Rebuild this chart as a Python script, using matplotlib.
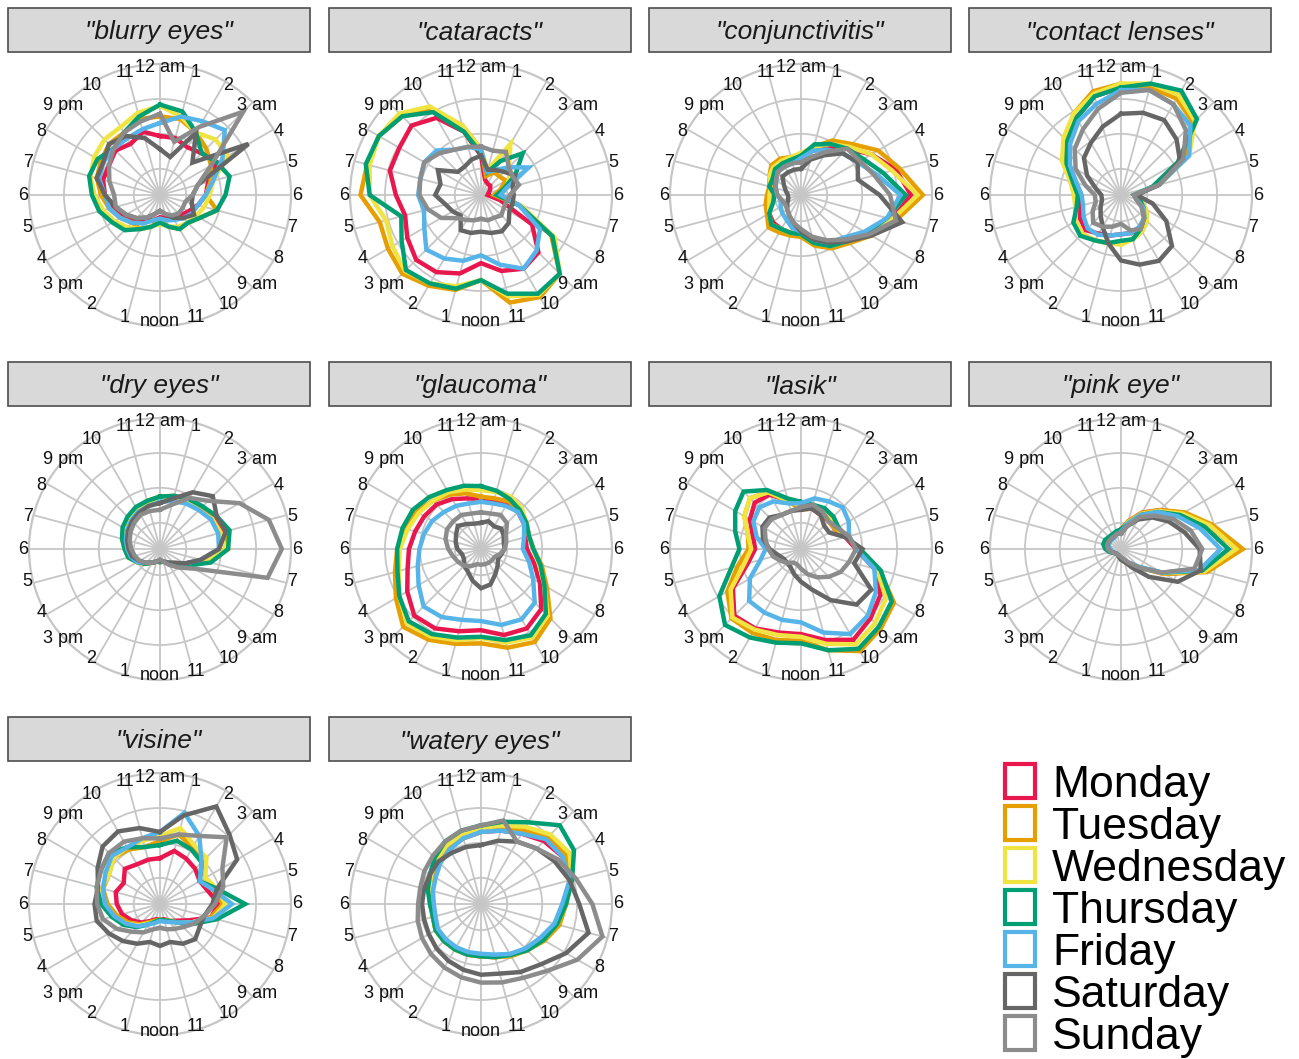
import matplotlib
matplotlib.use('Agg')
import matplotlib.pyplot as plt
from matplotlib.patches import Rectangle
import numpy as np

W, H = 1299, 1059

hour_labels = ["12 am", "1", "2", "3 am", "4", "5", "6", "7", "8", "9 am", "10", "11",
               "noon", "1", "2", "3 pm", "4", "5", "6", "7", "8", "9 pm", "10", "11"]
days = ["Monday", "Tuesday", "Wednesday", "Thursday", "Friday", "Saturday", "Sunday"]
day_colors = ["#E8174D", "#E69F00", "#F0E442", "#009E73", "#56B4E9", "#666666", "#8C8C8C"]
terms = ["blurry eyes", "cataracts", "conjunctivitis", "contact lenses", "dry eyes",
         "glaucoma", "lasik", "pink eye", "visine", "watery eyes"]

# relative search interest by hour (0 = 12 am ... 23 = 11 pm), one row per weekday Mon..Sun
blurry_eyes = [
    [0.45, 0.45, 0.42, 0.45, 0.50, 0.38, 0.35, 0.30, 0.25, 0.22, 0.20, 0.18, 0.17, 0.20, 0.22, 0.28, 0.33, 0.38, 0.42, 0.45, 0.45, 0.48, 0.45, 0.50],
    [0.60, 0.60, 0.55, 0.50, 0.45, 0.40, 0.35, 0.45, 0.35, 0.30, 0.30, 0.25, 0.20, 0.25, 0.30, 0.30, 0.35, 0.40, 0.45, 0.50, 0.52, 0.55, 0.55, 0.60],
    [0.68, 0.62, 0.55, 0.60, 0.60, 0.42, 0.38, 0.35, 0.32, 0.30, 0.28, 0.25, 0.22, 0.25, 0.30, 0.35, 0.40, 0.45, 0.50, 0.55, 0.58, 0.60, 0.60, 0.65],
    [0.69, 0.66, 0.55, 0.45, 0.50, 0.55, 0.50, 0.45, 0.35, 0.30, 0.30, 0.25, 0.21, 0.25, 0.30, 0.38, 0.42, 0.48, 0.52, 0.56, 0.55, 0.50, 0.55, 0.62],
    [0.55, 0.62, 0.65, 0.70, 0.55, 0.42, 0.35, 0.30, 0.28, 0.25, 0.22, 0.20, 0.18, 0.20, 0.25, 0.30, 0.35, 0.40, 0.42, 0.48, 0.50, 0.50, 0.50, 0.52],
    [0.35, 0.30, 0.55, 0.35, 0.78, 0.30, 0.25, 0.25, 0.30, 0.25, 0.20, 0.15, 0.12, 0.15, 0.20, 0.25, 0.30, 0.35, 0.42, 0.50, 0.50, 0.55, 0.52, 0.45],
    [0.62, 0.42, 0.60, 0.90, 0.45, 0.30, 0.25, 0.20, 0.20, 0.20, 0.18, 0.15, 0.12, 0.15, 0.20, 0.25, 0.30, 0.35, 0.35, 0.40, 0.45, 0.50, 0.55, 0.58],
]
cataracts = [
    [0.30, 0.12, 0.10, 0.10, 0.08, 0.06, 0.05, 0.15, 0.45, 0.62, 0.65, 0.60, 0.52, 0.62, 0.68, 0.70, 0.65, 0.60, 0.65, 0.72, 0.72, 0.75, 0.68, 0.50],
    [0.35, 0.15, 0.20, 0.20, 0.22, 0.15, 0.10, 0.30, 0.62, 0.85, 0.90, 0.85, 0.65, 0.75, 0.80, 0.85, 0.82, 0.80, 0.92, 0.90, 0.90, 0.85, 0.75, 0.55],
    [0.35, 0.20, 0.45, 0.30, 0.25, 0.20, 0.12, 0.32, 0.65, 0.85, 0.88, 0.80, 0.65, 0.72, 0.78, 0.82, 0.78, 0.75, 0.85, 0.88, 0.90, 0.88, 0.78, 0.55],
    [0.32, 0.18, 0.30, 0.45, 0.30, 0.18, 0.12, 0.30, 0.63, 0.85, 0.87, 0.78, 0.65, 0.74, 0.78, 0.81, 0.70, 0.63, 0.85, 0.91, 0.90, 0.85, 0.73, 0.50],
    [0.35, 0.18, 0.22, 0.30, 0.42, 0.20, 0.15, 0.30, 0.52, 0.60, 0.65, 0.55, 0.46, 0.52, 0.56, 0.59, 0.50, 0.45, 0.48, 0.48, 0.50, 0.48, 0.40, 0.38],
    [0.30, 0.20, 0.22, 0.25, 0.30, 0.25, 0.25, 0.25, 0.25, 0.30, 0.32, 0.30, 0.28, 0.30, 0.31, 0.22, 0.25, 0.28, 0.35, 0.32, 0.38, 0.25, 0.25, 0.28],
    [0.37, 0.35, 0.38, 0.30, 0.28, 0.30, 0.22, 0.20, 0.20, 0.22, 0.20, 0.20, 0.18, 0.20, 0.22, 0.25, 0.35, 0.42, 0.47, 0.48, 0.50, 0.45, 0.40, 0.38],
]
conjunctivitis = [
    [0.30, 0.35, 0.42, 0.50, 0.62, 0.75, 0.84, 0.72, 0.60, 0.50, 0.45, 0.38, 0.30, 0.30, 0.30, 0.30, 0.28, 0.25, 0.22, 0.22, 0.25, 0.28, 0.28, 0.28],
    [0.30, 0.38, 0.48, 0.55, 0.68, 0.78, 0.93, 0.75, 0.62, 0.52, 0.47, 0.40, 0.32, 0.32, 0.33, 0.35, 0.30, 0.28, 0.26, 0.25, 0.28, 0.32, 0.32, 0.30],
    [0.32, 0.38, 0.45, 0.52, 0.62, 0.72, 0.89, 0.72, 0.60, 0.50, 0.45, 0.38, 0.30, 0.30, 0.30, 0.32, 0.28, 0.25, 0.24, 0.24, 0.28, 0.30, 0.30, 0.30],
    [0.30, 0.40, 0.45, 0.50, 0.55, 0.65, 0.80, 0.68, 0.58, 0.50, 0.45, 0.38, 0.30, 0.30, 0.30, 0.32, 0.28, 0.22, 0.20, 0.25, 0.25, 0.28, 0.28, 0.28],
    [0.28, 0.35, 0.40, 0.45, 0.50, 0.60, 0.76, 0.68, 0.56, 0.46, 0.42, 0.35, 0.28, 0.26, 0.22, 0.20, 0.18, 0.16, 0.18, 0.20, 0.22, 0.25, 0.25, 0.25],
    [0.20, 0.28, 0.35, 0.45, 0.50, 0.45, 0.60, 0.80, 0.62, 0.50, 0.42, 0.35, 0.28, 0.22, 0.18, 0.15, 0.12, 0.10, 0.10, 0.12, 0.15, 0.20, 0.20, 0.20],
    [0.25, 0.30, 0.38, 0.50, 0.52, 0.58, 0.68, 0.75, 0.60, 0.48, 0.40, 0.33, 0.26, 0.22, 0.18, 0.15, 0.14, 0.15, 0.18, 0.20, 0.22, 0.25, 0.25, 0.25],
]
contact_lenses = [
    [0.82, 0.85, 0.88, 0.78, 0.55, 0.30, 0.10, 0.12, 0.20, 0.25, 0.30, 0.30, 0.30, 0.32, 0.34, 0.38, 0.36, 0.32, 0.32, 0.38, 0.48, 0.58, 0.68, 0.78],
    [0.85, 0.85, 0.85, 0.78, 0.55, 0.28, 0.10, 0.15, 0.22, 0.28, 0.32, 0.35, 0.36, 0.38, 0.40, 0.42, 0.40, 0.36, 0.35, 0.40, 0.50, 0.60, 0.72, 0.82],
    [0.85, 0.88, 0.88, 0.80, 0.60, 0.30, 0.10, 0.15, 0.22, 0.28, 0.32, 0.35, 0.38, 0.38, 0.40, 0.42, 0.40, 0.36, 0.36, 0.40, 0.52, 0.62, 0.72, 0.80],
    [0.82, 0.88, 0.92, 0.82, 0.50, 0.25, 0.10, 0.15, 0.20, 0.25, 0.30, 0.35, 0.35, 0.38, 0.40, 0.44, 0.42, 0.35, 0.33, 0.38, 0.48, 0.58, 0.68, 0.78],
    [0.80, 0.83, 0.80, 0.75, 0.60, 0.30, 0.10, 0.12, 0.20, 0.25, 0.28, 0.30, 0.30, 0.32, 0.35, 0.36, 0.33, 0.30, 0.30, 0.35, 0.45, 0.55, 0.65, 0.72],
    [0.62, 0.65, 0.66, 0.60, 0.52, 0.30, 0.12, 0.25, 0.40, 0.55, 0.58, 0.55, 0.50, 0.38, 0.28, 0.22, 0.18, 0.15, 0.15, 0.20, 0.30, 0.40, 0.46, 0.54],
    [0.78, 0.83, 0.80, 0.70, 0.55, 0.30, 0.10, 0.12, 0.18, 0.25, 0.30, 0.28, 0.22, 0.25, 0.28, 0.30, 0.25, 0.20, 0.20, 0.28, 0.40, 0.50, 0.58, 0.68],
]
dry_eyes = [
    [0.38, 0.40, 0.42, 0.45, 0.48, 0.50, 0.50, 0.35, 0.22, 0.15, 0.12, 0.10, 0.10, 0.10, 0.12, 0.15, 0.20, 0.24, 0.26, 0.28, 0.30, 0.32, 0.35, 0.36],
    [0.40, 0.42, 0.42, 0.45, 0.50, 0.52, 0.52, 0.38, 0.25, 0.16, 0.12, 0.10, 0.10, 0.10, 0.12, 0.16, 0.20, 0.25, 0.27, 0.30, 0.32, 0.34, 0.36, 0.38],
    [0.38, 0.40, 0.42, 0.42, 0.46, 0.48, 0.50, 0.36, 0.24, 0.15, 0.12, 0.10, 0.10, 0.10, 0.12, 0.15, 0.20, 0.24, 0.26, 0.29, 0.31, 0.33, 0.35, 0.36],
    [0.40, 0.42, 0.44, 0.46, 0.50, 0.55, 0.52, 0.40, 0.25, 0.16, 0.12, 0.10, 0.10, 0.10, 0.12, 0.16, 0.20, 0.25, 0.27, 0.30, 0.33, 0.35, 0.37, 0.38],
    [0.36, 0.38, 0.40, 0.42, 0.45, 0.46, 0.45, 0.32, 0.22, 0.15, 0.12, 0.10, 0.09, 0.10, 0.12, 0.15, 0.20, 0.23, 0.25, 0.27, 0.29, 0.31, 0.33, 0.34],
    [0.35, 0.40, 0.50, 0.57, 0.50, 0.52, 0.45, 0.32, 0.22, 0.15, 0.12, 0.10, 0.09, 0.10, 0.12, 0.15, 0.18, 0.22, 0.24, 0.26, 0.28, 0.30, 0.32, 0.34],
    [0.30, 0.35, 0.45, 0.52, 0.70, 0.86, 0.93, 0.85, 0.30, 0.20, 0.14, 0.10, 0.08, 0.10, 0.12, 0.15, 0.18, 0.20, 0.22, 0.24, 0.26, 0.28, 0.30, 0.30],
]
glaucoma = [
    [0.38, 0.38, 0.40, 0.40, 0.38, 0.35, 0.35, 0.42, 0.52, 0.65, 0.70, 0.68, 0.62, 0.65, 0.70, 0.72, 0.65, 0.58, 0.55, 0.52, 0.50, 0.48, 0.44, 0.40],
    [0.40, 0.40, 0.42, 0.42, 0.40, 0.38, 0.40, 0.48, 0.58, 0.75, 0.82, 0.78, 0.72, 0.75, 0.80, 0.84, 0.75, 0.68, 0.64, 0.60, 0.57, 0.52, 0.48, 0.44],
    [0.45, 0.45, 0.46, 0.44, 0.40, 0.38, 0.40, 0.46, 0.56, 0.72, 0.78, 0.74, 0.68, 0.72, 0.77, 0.80, 0.72, 0.65, 0.62, 0.58, 0.55, 0.52, 0.50, 0.47],
    [0.48, 0.46, 0.44, 0.42, 0.40, 0.38, 0.40, 0.47, 0.56, 0.70, 0.76, 0.72, 0.67, 0.70, 0.75, 0.78, 0.72, 0.66, 0.64, 0.62, 0.60, 0.56, 0.52, 0.50],
    [0.36, 0.36, 0.38, 0.40, 0.38, 0.34, 0.32, 0.38, 0.46, 0.58, 0.62, 0.60, 0.55, 0.56, 0.60, 0.62, 0.55, 0.50, 0.47, 0.45, 0.43, 0.40, 0.38, 0.36],
    [0.20, 0.22, 0.20, 0.22, 0.20, 0.18, 0.18, 0.16, 0.15, 0.18, 0.22, 0.28, 0.30, 0.25, 0.20, 0.18, 0.15, 0.15, 0.18, 0.20, 0.22, 0.25, 0.22, 0.20],
    [0.28, 0.28, 0.30, 0.28, 0.22, 0.20, 0.18, 0.15, 0.12, 0.12, 0.12, 0.12, 0.12, 0.12, 0.15, 0.18, 0.20, 0.22, 0.25, 0.28, 0.30, 0.30, 0.30, 0.28],
]
lasik = [
    [0.32, 0.32, 0.30, 0.30, 0.30, 0.35, 0.42, 0.58, 0.70, 0.75, 0.80, 0.72, 0.65, 0.66, 0.70, 0.72, 0.60, 0.42, 0.35, 0.38, 0.45, 0.50, 0.48, 0.38],
    [0.30, 0.32, 0.32, 0.30, 0.30, 0.36, 0.45, 0.62, 0.82, 0.86, 0.90, 0.80, 0.70, 0.72, 0.74, 0.75, 0.65, 0.50, 0.40, 0.42, 0.50, 0.55, 0.50, 0.38],
    [0.33, 0.32, 0.34, 0.32, 0.32, 0.36, 0.44, 0.60, 0.75, 0.80, 0.84, 0.75, 0.67, 0.68, 0.71, 0.74, 0.62, 0.45, 0.38, 0.42, 0.50, 0.55, 0.50, 0.38],
    [0.36, 0.35, 0.36, 0.35, 0.33, 0.36, 0.45, 0.63, 0.80, 0.84, 0.88, 0.80, 0.72, 0.74, 0.78, 0.82, 0.72, 0.55, 0.47, 0.52, 0.58, 0.62, 0.52, 0.40],
    [0.35, 0.40, 0.42, 0.45, 0.42, 0.38, 0.42, 0.58, 0.66, 0.72, 0.75, 0.66, 0.56, 0.56, 0.56, 0.56, 0.45, 0.32, 0.27, 0.35, 0.42, 0.45, 0.42, 0.36],
    [0.30, 0.32, 0.30, 0.25, 0.25, 0.35, 0.47, 0.42, 0.62, 0.60, 0.45, 0.32, 0.25, 0.20, 0.16, 0.15, 0.15, 0.18, 0.24, 0.30, 0.34, 0.34, 0.30, 0.30],
    [0.32, 0.35, 0.33, 0.30, 0.32, 0.38, 0.42, 0.38, 0.35, 0.30, 0.25, 0.20, 0.15, 0.12, 0.12, 0.15, 0.18, 0.22, 0.25, 0.28, 0.32, 0.32, 0.30, 0.30],
]
pink_eye = [
    [0.15, 0.22, 0.32, 0.42, 0.55, 0.70, 0.88, 0.66, 0.38, 0.20, 0.13, 0.10, 0.08, 0.06, 0.05, 0.05, 0.06, 0.08, 0.10, 0.12, 0.12, 0.12, 0.12, 0.13],
    [0.15, 0.22, 0.32, 0.42, 0.56, 0.72, 0.93, 0.68, 0.38, 0.20, 0.13, 0.10, 0.08, 0.06, 0.05, 0.05, 0.06, 0.08, 0.10, 0.12, 0.12, 0.12, 0.12, 0.13],
    [0.15, 0.21, 0.31, 0.41, 0.54, 0.70, 0.88, 0.66, 0.37, 0.20, 0.13, 0.10, 0.08, 0.06, 0.05, 0.05, 0.06, 0.08, 0.10, 0.12, 0.12, 0.12, 0.12, 0.13],
    [0.15, 0.20, 0.30, 0.40, 0.52, 0.66, 0.82, 0.64, 0.36, 0.20, 0.13, 0.10, 0.08, 0.06, 0.05, 0.05, 0.06, 0.09, 0.12, 0.14, 0.14, 0.13, 0.13, 0.14],
    [0.13, 0.20, 0.30, 0.40, 0.50, 0.62, 0.76, 0.62, 0.36, 0.19, 0.12, 0.09, 0.07, 0.06, 0.05, 0.05, 0.06, 0.07, 0.08, 0.10, 0.10, 0.10, 0.10, 0.12],
    [0.12, 0.18, 0.26, 0.34, 0.42, 0.50, 0.60, 0.63, 0.50, 0.30, 0.16, 0.10, 0.08, 0.06, 0.05, 0.05, 0.06, 0.08, 0.10, 0.11, 0.11, 0.11, 0.11, 0.12],
    [0.12, 0.18, 0.28, 0.36, 0.46, 0.55, 0.62, 0.58, 0.36, 0.20, 0.12, 0.08, 0.06, 0.05, 0.05, 0.05, 0.06, 0.08, 0.10, 0.11, 0.11, 0.11, 0.11, 0.12],
]
visine = [
    [0.35, 0.42, 0.40, 0.38, 0.35, 0.38, 0.45, 0.40, 0.25, 0.18, 0.15, 0.12, 0.12, 0.12, 0.15, 0.20, 0.25, 0.30, 0.33, 0.35, 0.32, 0.38, 0.35, 0.35],
    [0.48, 0.55, 0.50, 0.45, 0.40, 0.42, 0.48, 0.40, 0.28, 0.20, 0.15, 0.13, 0.12, 0.13, 0.16, 0.22, 0.28, 0.34, 0.40, 0.45, 0.45, 0.50, 0.48, 0.45],
    [0.52, 0.60, 0.52, 0.50, 0.40, 0.45, 0.50, 0.42, 0.28, 0.20, 0.15, 0.13, 0.12, 0.14, 0.17, 0.23, 0.30, 0.36, 0.42, 0.46, 0.45, 0.50, 0.50, 0.50],
    [0.45, 0.50, 0.48, 0.45, 0.35, 0.45, 0.65, 0.45, 0.30, 0.20, 0.15, 0.13, 0.12, 0.14, 0.18, 0.25, 0.32, 0.38, 0.45, 0.50, 0.52, 0.55, 0.50, 0.45],
    [0.55, 0.72, 0.60, 0.45, 0.35, 0.42, 0.55, 0.42, 0.28, 0.20, 0.16, 0.14, 0.13, 0.15, 0.18, 0.24, 0.30, 0.36, 0.42, 0.45, 0.48, 0.52, 0.50, 0.52],
    [0.55, 0.70, 0.86, 0.75, 0.68, 0.45, 0.40, 0.35, 0.35, 0.38, 0.35, 0.30, 0.32, 0.30, 0.35, 0.40, 0.45, 0.50, 0.50, 0.49, 0.55, 0.62, 0.64, 0.60],
    [0.50, 0.55, 0.60, 0.72, 0.55, 0.50, 0.42, 0.35, 0.30, 0.25, 0.22, 0.20, 0.18, 0.20, 0.25, 0.30, 0.38, 0.45, 0.48, 0.50, 0.52, 0.55, 0.55, 0.52],
]
watery_eyes = [
    [0.55, 0.58, 0.62, 0.68, 0.72, 0.70, 0.65, 0.60, 0.55, 0.50, 0.45, 0.42, 0.40, 0.40, 0.40, 0.40, 0.40, 0.38, 0.38, 0.40, 0.42, 0.45, 0.50, 0.52],
    [0.55, 0.60, 0.65, 0.72, 0.75, 0.70, 0.65, 0.62, 0.56, 0.50, 0.46, 0.42, 0.40, 0.40, 0.40, 0.40, 0.40, 0.38, 0.38, 0.40, 0.43, 0.46, 0.50, 0.52],
    [0.58, 0.62, 0.68, 0.75, 0.78, 0.72, 0.65, 0.60, 0.55, 0.50, 0.45, 0.42, 0.40, 0.40, 0.40, 0.40, 0.40, 0.38, 0.39, 0.41, 0.44, 0.48, 0.52, 0.55],
    [0.60, 0.65, 0.72, 0.85, 0.82, 0.72, 0.65, 0.60, 0.55, 0.50, 0.45, 0.42, 0.40, 0.40, 0.40, 0.40, 0.40, 0.38, 0.39, 0.42, 0.45, 0.50, 0.55, 0.58],
    [0.55, 0.58, 0.62, 0.70, 0.72, 0.70, 0.62, 0.58, 0.52, 0.48, 0.44, 0.40, 0.38, 0.38, 0.38, 0.38, 0.38, 0.36, 0.36, 0.38, 0.40, 0.44, 0.48, 0.52],
    [0.45, 0.50, 0.55, 0.60, 0.65, 0.70, 0.75, 0.85, 0.75, 0.65, 0.60, 0.55, 0.54, 0.52, 0.50, 0.48, 0.46, 0.45, 0.45, 0.45, 0.45, 0.46, 0.45, 0.45],
    [0.60, 0.66, 0.55, 0.60, 0.68, 0.75, 0.85, 0.96, 0.85, 0.72, 0.65, 0.62, 0.60, 0.58, 0.56, 0.54, 0.52, 0.50, 0.48, 0.48, 0.50, 0.52, 0.55, 0.58],
]
term_data = [blurry_eyes, cataracts, conjunctivitis, contact_lenses, dry_eyes,
             glaucoma, lasik, pink_eye, visine, watery_eyes]

plt.rcParams['font.family'] = ['Liberation Sans', 'DejaVu Sans']
fig = plt.figure(figsize=(W / 100, H / 100), dpi=100)

grid_col = '#C6C6C6'
centers_x = [160, 481, 801, 1121]
centers_y = [195, 549, 904]
R = 131
theta = np.deg2rad(np.arange(24) * 15.0)
theta_closed = np.append(theta, theta[0])

for i, (term, series) in enumerate(zip(terms, term_data)):
    row, col = divmod(i, 4)
    cx, cy = centers_x[col], centers_y[row]
    ax = fig.add_axes([(cx - R) / W, 1 - (cy + R) / H, 2 * R / W, 2 * R / H], projection='polar')
    ax.set_theta_zero_location('N')
    ax.set_theta_direction(-1)
    ax.set_ylim(0, 1)
    ax.set_xticks(theta)
    ax.set_xticklabels([])
    ax.set_yticks([0.2, 0.467, 0.733])
    ax.set_yticklabels([])
    ax.grid(True, color=grid_col, lw=1.3)
    ax.spines['polar'].set_color(grid_col)
    ax.spines['polar'].set_linewidth(1.6)
    ax.tick_params(length=0)
    for vals, c in zip(series, day_colors):
        v = np.append(vals, vals[0])
        ax.plot(theta_closed, v, color=c, lw=3.2, solid_joinstyle='miter')
    # hour labels around the dial
    for th, lab in zip(theta, hour_labels):
        ax.text(0.5 + 0.5 * (137 / R) * np.sin(th), 0.5 + 0.5 * (127 / R) * np.cos(th), lab,
                transform=ax.transAxes, ha='center', va='center', fontsize=13, color='#111111')
    # facet strip
    x0, x1 = cx - 152, cx + 150
    y0, y1 = cy - 187, cy - 143
    fig.add_artist(Rectangle((x0 / W, 1 - y1 / H), (x1 - x0) / W, (y1 - y0) / H,
                             transform=fig.transFigure, facecolor='#D9D9D9',
                             edgecolor='#4D4D4D', lw=1.2))
    fig.text((x0 + x1) / 2 / W, 1 - (y0 + 31.5) / H, '"' + term + '"', ha='center', va='baseline',
             style='italic', fontsize=19, color='#1A1A1A')

# legend
for k, (d, c) in enumerate(zip(days, day_colors)):
    top = 764 + 42 * k
    fig.add_artist(Rectangle((1005 / W, 1 - (top + 34) / H), 30 / W, 34 / H,
                             transform=fig.transFigure, facecolor='white', edgecolor=c, lw=3.0))
    fig.text(1052 / W, 1 - (top + 33) / H, d, ha='left', va='baseline', fontsize=32, color='black')

fig.savefig('out.png', dpi=100)
